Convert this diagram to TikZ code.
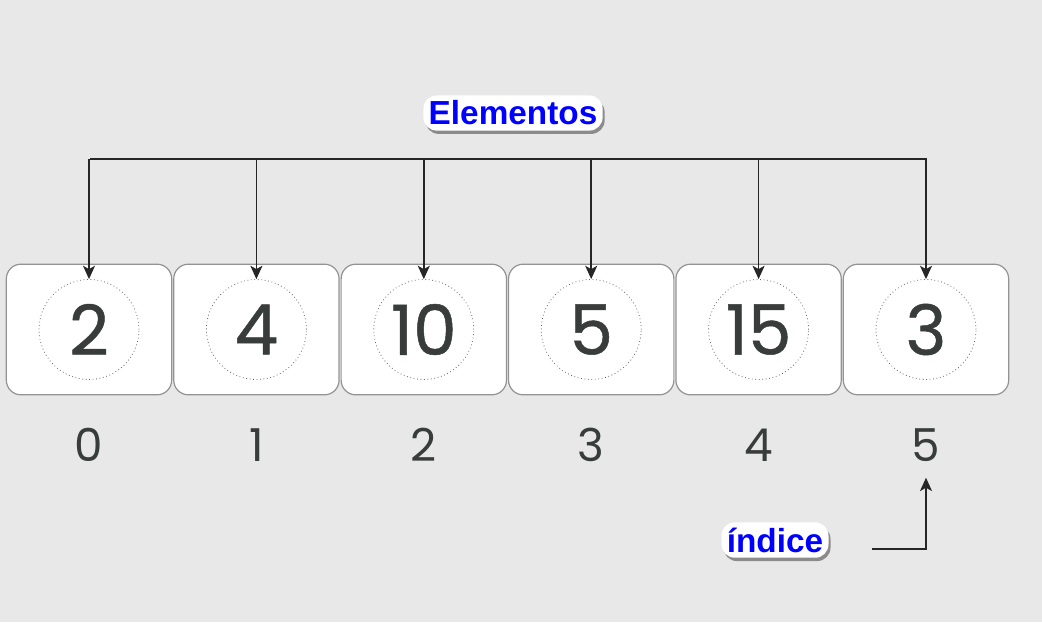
\documentclass[tikz,border=0pt]{standalone}
\usepackage{fontspec}
\setmainfont{Poppins}
\newfontfamily\numfont{Poppins}[FakeBold=0.7]
\newfontfamily\tagfont{Liberation Sans}
\usepackage{xcolor}
\usetikzlibrary{positioning, arrows.meta, shadows}

\definecolor{bgcol}{HTML}{E8E8E8}
\definecolor{ink}{HTML}{383C3A}
\definecolor{tagblue}{HTML}{0000FF}

\tikzset{
  cell/.style={draw=gray!85, fill=white, line width=0.9pt, rounded corners=11pt,
    minimum width=124pt, minimum height=98pt},
  ring/.style={circle, draw=gray!80!black, dotted, line width=0.6pt, minimum size=75pt, inner sep=0pt,
    text=ink, font=\numfont\fontsize{52}{56}\selectfont},
  idxnum/.style={inner sep=0pt, text=ink, font=\fontsize{34}{40}\selectfont},
  tag/.style={fill=white, rounded corners=10pt, inner sep=4pt, text=tagblue,
    font=\tagfont\bfseries\fontsize{25}{28}\selectfont,
    drop shadow={shadow xshift=1.5pt, shadow yshift=-2.5pt, opacity=.4, fill=black}},
  arr/.style={-{Stealth[length=10pt, width=9pt, inset=2.5pt]}, line width=1.2pt, draw=black!85}
}

\begin{document}
\begin{tikzpicture}[x=0.75pt, y=-0.75pt]
\fill[bgcol] (0,0) rectangle (1042,622);
\useasboundingbox (0,0) rectangle (1042,622);

% array cells, values and indices
\foreach \v [count=\i from 0] in {2,4,10,5,15,3} {
  \node[cell] (box\i) at ({89+\i*167.4},329.5) {};
  \node[ring] (val\i) at (box\i.center) {\v};
  \node[idxnum] (idx\i) at ({89+\i*167.4},445) {\i};
}

% elements
\node[tag] (elem) at (513,113) {Elementos};
\coordinate (busL) at (90,159);
\coordinate (busR) at (927,159);
\draw[line width=1.2pt, draw=black!85] (busL) -- (busR);
\foreach \i in {0,...,5}
  \draw[arr] (val\i.north |- busL) -- (val\i.north);

% index
\node[tag] (ind) at (775,540) {índice};
\coordinate (indfrom) at (872,549);
\draw[arr, shorten >=12pt] (indfrom) -| (idx5.south);
\end{tikzpicture}
\end{document}
